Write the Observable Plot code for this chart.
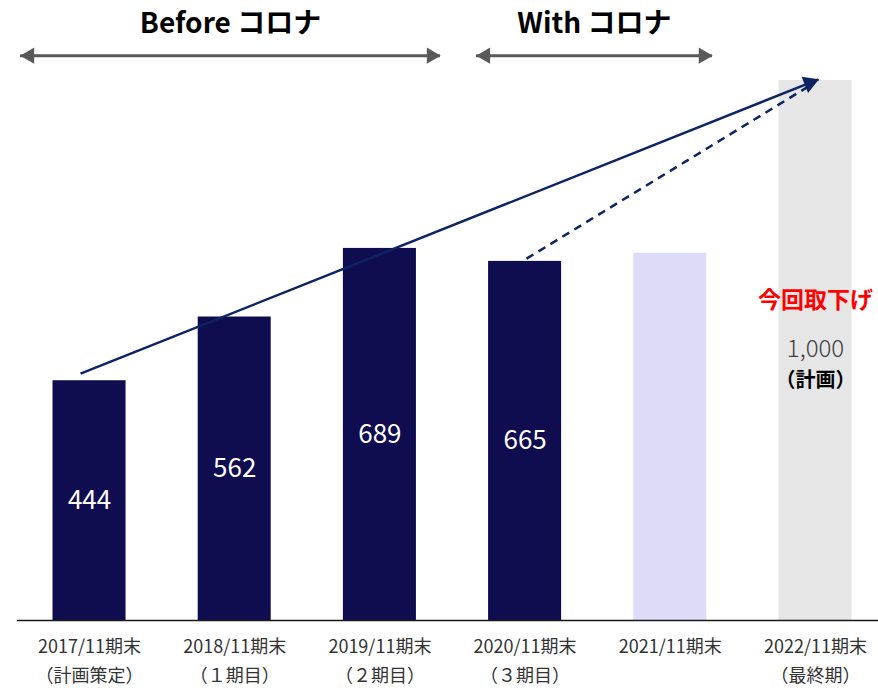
<!DOCTYPE html>
<html><head><meta charset="utf-8">
<script src="https://cdn.jsdelivr.net/npm/d3@7"></script>
<script src="https://cdn.jsdelivr.net/npm/@observablehq/plot@0.6"></script>
<style>
body{margin:0;background:#fff}
svg{font-family:"Noto Sans CJK JP","Noto Sans",sans-serif}
</style>
</head><body><div id="chart"></div>
<script>
// ---- data ----
const periods = ["2017/11期末","2018/11期末","2019/11期末","2020/11期末","2021/11期末","2022/11期末"];
const subLabels = ["（計画策定）","（１期目）","（２期目）","（３期目）","","（最終期）"];
const values = [444, 562, 689, 665, 680, 1000];
const valueLabels = ["444","562","689","665","",""];
const barKinds = ["actual","actual","actual","actual","current","plan"];
const phaseNames = ["Before コロナ","With コロナ"];
const phaseFrom = [-0.475, 2.665];
const phaseTo = [2.417, 4.29];
const trendFromX = [-0.062, 3.01];
const trendFromY = [457, 670];
const trendToX = [5.021, 4.952];
const trendToY = [1002, 989];
const trendKinds = ["solid","dashed"];
const planNote = ["今回取下げ"];
const planValue = ["1,000"];
const planTag = ["（計画）"];

// ---- build tables ----
const bars = periods.map((p,i)=>({i, p, sub: subLabels[i], v: values[i], label: valueLabels[i], kind: barKinds[i]}));
const phases = phaseNames.map((n,i)=>({n, a: phaseFrom[i], b: phaseTo[i], m:(phaseFrom[i]+phaseTo[i])/2}));
const trends = trendKinds.map((k,i)=>({k, x1: trendFromX[i], y1: trendFromY[i], x2: trendToX[i], y2: trendToY[i]}));
const colorOf = {actual:"#100c50", current:"#dcdcf8", plan:"#e6e6e6"};
const PH_ARROW_Y = 1046, PH_LABEL_Y = 1104;
const planIdx = 5;

const chart = Plot.plot({
  width: 878, height: 688,
  marginLeft: 17, marginRight: 0, marginTop: 0, marginBottom: 68,
  x: {type:"linear", domain: [-0.496, 5.434], axis: null},
  y: {domain: [0, 1148.1], axis: null},
  marks: [
    Plot.rectY(bars, {x1: d=>d.i-0.2515, x2: d=>d.i+0.2515, y: "v", fill: d=>colorOf[d.kind]}),
    Plot.ruleY([0], {stroke:"#1a1a1a", strokeWidth:1.5}),
    Plot.text(bars, {x:"i", y: d=>d.v/2, text:"label", fill:"#fff", fontSize:26}),
    Plot.text(bars, {x:"i", y:0, text:"p", dy:27, fontSize:18, fill:"#333"}),
    Plot.text(bars, {x:"i", y:0, text:"sub", dy:56, fontSize:18, fill:"#333"}),
    // phase arrows
    Plot.ruleY(phases, {y: PH_ARROW_Y, x1:"a", x2:"b", stroke:"#595959", strokeWidth:3}),
    Plot.dot(phases, {x:"a", y: PH_ARROW_Y, symbol:"triangle", r:6, rotate:-90, fill:"#595959", dx:9}),
    Plot.dot(phases, {x:"b", y: PH_ARROW_Y, symbol:"triangle", r:6, rotate:90, fill:"#595959", dx:-9}),
    Plot.text(phases, {x:"m", y: PH_LABEL_Y, text:"n", fontSize:28, fontWeight:600, fill:"#000"}),
    // trend arrows
    Plot.link(trends.filter(d=>d.k==="solid"), {x1:"x1", y1:"y1", x2:"x2", y2:"y2", stroke:"#0c2463", strokeWidth:2.5}),
    Plot.link(trends.filter(d=>d.k==="dashed"), {x1:"x1", y1:"y1", x2:"x2", y2:"y2", stroke:"#0c2463", strokeWidth:2.5, strokeDasharray:"8,6"}),
    Plot.dot(trends.filter(d=>d.k==="solid"), {x:"x2", y:"y2", symbol:"triangle", r:6.5, rotate:68.3, fill:"#0c2463", dx:-9, dy:3.6}),
    // plan annotations
    Plot.text(planNote, {x: ()=>planIdx, y: 593, text: d=>d, fontSize:23, fontWeight:600, fill:"#ff0000"}),
    Plot.text(planValue, {x: ()=>planIdx, y: 503, text: d=>d, fontSize:24, fontWeight:300, fill:"#404040"}),
    Plot.text(planTag, {x: ()=>planIdx, y: 445, text: d=>d, fontSize:20, fontWeight:700, fill:"#000"})
  ]
});
document.getElementById("chart").appendChild(chart);
</script>
</body></html>
